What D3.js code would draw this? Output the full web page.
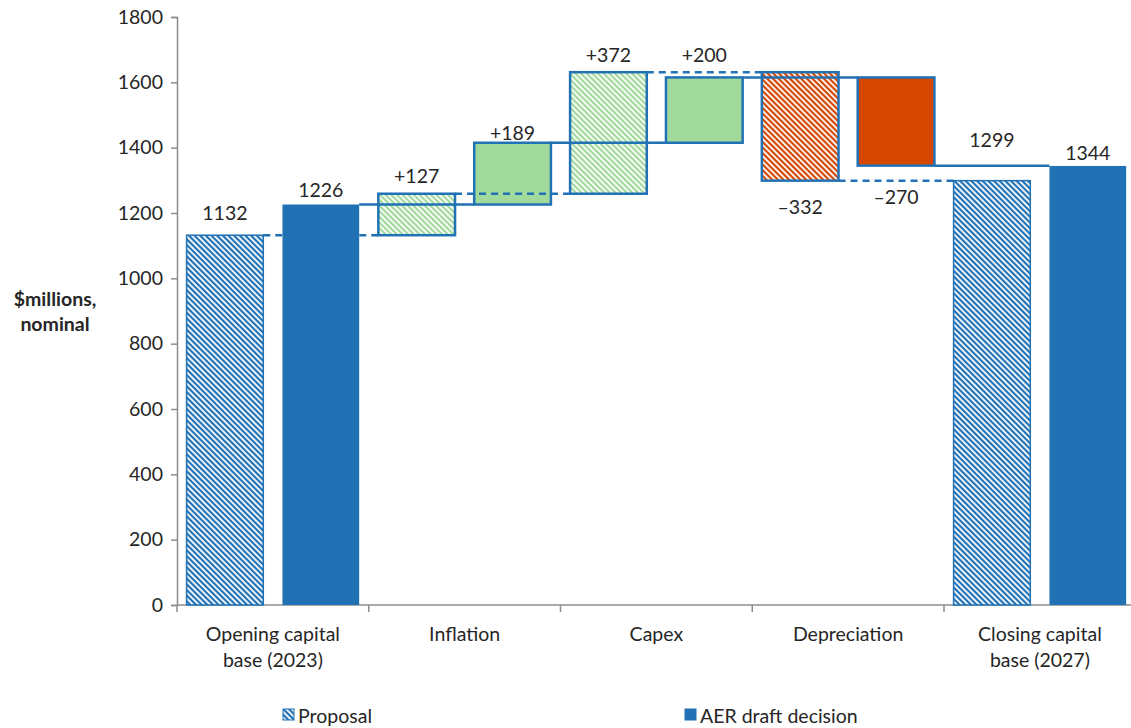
<!DOCTYPE html>
<html>
<head>
<meta charset="utf-8">
<script src="https://cdn.jsdelivr.net/npm/d3@7"></script>
<style>
  body { margin: 0; background: white; }
  text { font-family: Lato, "Open Sans", sans-serif; fill: #262626; }
</style>
</head>
<body>
<script>
// values
const categories = ["Opening capital base (2023)", "Inflation", "Capex", "Depreciation", "Closing capital base (2027)"];
const categoryLines = [["Opening capital", "base (2023)"], ["Inflation"], ["Capex"], ["Depreciation"], ["Closing capital", "base (2027)"]];
const proposal = [1132, 127, 372, -332, 1299];
const aer = [1226, 189, 200, -270, 1344];
const seriesNames = ["Proposal", "AER draft decision"];
const yTicks = [0, 200, 400, 600, 800, 1000, 1200, 1400, 1600, 1800];

// label offsets in px (centre of label from bar end), just to sit like the original
const proposalLabelDy = [-23, -18, -18, 26, -41];
const aerLabelDy = [-15, -10, -23, 31, -13];

const W = 1131, H = 728;
const blue = "#2171b5", green = "#a1d99b", orange = "#d54600";
const fs = "19.5px";

function createChart() {
  let svg = d3.select("body").append("svg")
    .attr("width", W)
    .attr("height", H);

  let defs = svg.append("defs");
  // hatch patterns: white diagonal stripes on colour
  [["hatchBlue", blue], ["hatchGreen", green], ["hatchOrange", orange]].forEach(([id, c]) => {
    let p = defs.append("pattern")
      .attr("id", id)
      .attr("patternUnits", "userSpaceOnUse")
      .attr("width", 4).attr("height", 4)
      .attr("patternTransform", "rotate(-45)");
    p.append("rect").attr("width", 4).attr("height", 4).attr("fill", c);
    p.append("rect").attr("width", 1.8).attr("height", 4).attr("fill", "white");
  });

  let x = d3.scaleBand().domain(categories).range([177, 177 + 191.75 * 5]).padding(0);
  let xs = d3.scaleBand().domain(seriesNames).range([0, x.bandwidth()])
    .paddingInner(0.2).paddingOuter(0.1);
  let y = d3.scaleLinear().domain([0, 1800]).range([605, 17]);

  // build waterfall segments
  function segments(vals) {
    let out = [], run = 0;
    vals.forEach((v, i) => {
      let total = i === 0 || i === vals.length - 1;
      let start = total ? 0 : run;
      let end = total ? v : run + v;
      run = end;
      out.push({ cat: categories[i], v: v, start: start, end: end, total: total, i: i });
    });
    return out;
  }
  let propSeg = segments(proposal);
  let aerSeg = segments(aer);

  // axes
  let yAxis = svg.append("g").attr("transform", "translate(177,0)")
    .call(d3.axisLeft(y).tickValues(yTicks).tickFormat(d3.format("d"))
      .tickSize(6).tickPadding(8).tickSizeOuter(6));
  yAxis.selectAll("text").style("font-size", fs).attr("fill", "#262626");
  yAxis.selectAll("line, path").attr("stroke", "#8c8c8c").attr("stroke-width", 1.5);

  let xAxis = svg.append("g").attr("transform", "translate(0,605)");
  xAxis.append("line").attr("x1", 177).attr("x2", W + 10).attr("y1", 0).attr("y2", 0)
    .attr("stroke", "#8c8c8c").attr("stroke-width", 1.5);
  xAxis.selectAll(".xt").data(categories).enter().append("line")
    .attr("x1", d => x(d)).attr("x2", d => x(d))
    .attr("y1", 0).attr("y2", 7)
    .attr("stroke", "#8c8c8c").attr("stroke-width", 1.5);
  xAxis.selectAll(".xl").data(categories).enter().append("text")
    .attr("x", d => x(d) + x.bandwidth() / 2)
    .attr("y", 36)
    .attr("text-anchor", "middle")
    .style("font-size", fs)
    .each(function(d, i) {
      d3.select(this).selectAll("tspan").data(categoryLines[i]).enter().append("tspan")
        .attr("x", x(d) + x.bandwidth() / 2)
        .attr("dy", (t, j) => j === 0 ? 0 : 26)
        .text(t => t);
    });

  // y axis title
  svg.append("text").attr("x", 55).attr("y", 306)
    .attr("text-anchor", "middle").style("font-size", fs).style("font-weight", "bold")
    .selectAll("tspan").data(["$millions,", "nominal"]).enter().append("tspan")
    .attr("x", 55).attr("dy", (t, j) => j === 0 ? 0 : 25).text(t => t);

  function fillFor(d, hatched) {
    if (d.total) return hatched ? "url(#hatchBlue)" : blue;
    return d.v >= 0 ? (hatched ? "url(#hatchGreen)" : green) : (hatched ? "url(#hatchOrange)" : orange);
  }

  // bars
  [[propSeg, seriesNames[0], true], [aerSeg, seriesNames[1], false]].forEach(([segs, name, hatched]) => {
    svg.selectAll(".bar-" + (hatched ? "p" : "a")).data(segs).enter().append("rect")
      .attr("x", d => x(d.cat) + xs(name))
      .attr("width", xs.bandwidth())
      .attr("y", d => y(Math.max(d.start, d.end)))
      .attr("height", d => Math.abs(y(d.start) - y(d.end)))
      .attr("fill", d => fillFor(d, hatched))
      .attr("stroke", d => d.total ? (hatched ? blue : "none") : blue)
      .attr("stroke-width", d => d.total ? 1.5 : 2.5);
  });

  // connectors: dashed for proposal, solid for AER
  let conn = (segs, name) => d3.range(segs.length - 1).map(i => ({
    x1: x(segs[i].cat) + xs(name) + xs.bandwidth(),
    x2: x(segs[i + 1].cat) + xs(name),
    yv: segs[i].end
  }));
  svg.selectAll(".cp").data(conn(propSeg, seriesNames[0])).enter().append("line")
    .attr("x1", d => d.x1).attr("x2", d => d.x2)
    .attr("y1", d => y(d.yv)).attr("y2", d => y(d.yv))
    .attr("stroke", blue).attr("stroke-width", 2.5).attr("stroke-dasharray", "7,5");
  svg.selectAll(".ca").data(conn(aerSeg, seriesNames[1])).enter().append("line")
    .attr("x1", d => d.x1).attr("x2", d => d.x2)
    .attr("y1", d => y(d.yv)).attr("y2", d => y(d.yv))
    .attr("stroke", blue).attr("stroke-width", 2.5);

  // value labels
  let fmt = d => d.total ? String(d.v) : (d.v >= 0 ? "+" + d.v : "\u2013" + Math.abs(d.v));
  [[propSeg, seriesNames[0], proposalLabelDy], [aerSeg, seriesNames[1], aerLabelDy]].forEach(([segs, name, dys]) => {
    svg.selectAll(".lab-" + name.length).data(segs).enter().append("text")
      .attr("x", d => x(d.cat) + xs(name) + xs.bandwidth() / 2)
      .attr("y", (d, i) => (d.v >= 0 ? y(Math.max(d.start, d.end)) : y(Math.min(d.start, d.end))) + dys[i])
      .attr("dominant-baseline", "central")
      .attr("text-anchor", "middle")
      .style("font-size", fs)
      .text(fmt);
  });

  // legend
  let legend = svg.append("g");
  let legendX = [283, 685];
  legend.selectAll("rect").data(seriesNames).enter().append("rect")
    .attr("x", (d, i) => legendX[i]).attr("y", 709)
    .attr("width", 11).attr("height", 11)
    .attr("fill", (d, i) => i === 0 ? "url(#hatchBlue)" : blue)
    .attr("stroke", blue).attr("stroke-width", 1);
  legend.selectAll("text").data(seriesNames).enter().append("text")
    .attr("x", (d, i) => legendX[i] + 15).attr("y", 715)
    .attr("dominant-baseline", "central")
    .style("font-size", fs)
    .text(d => d);
}

document.addEventListener("DOMContentLoaded", createChart);
</script>
</body>
</html>
